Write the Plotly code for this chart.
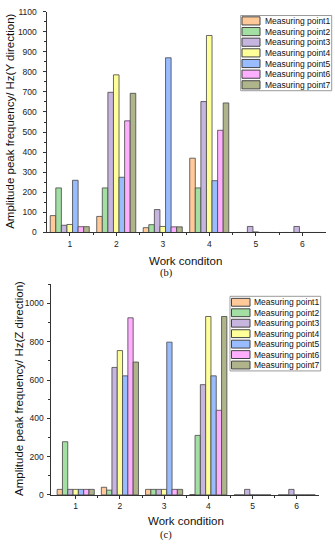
import plotly.graph_objects as go

W, H = 335, 550

conditions = [1, 2, 3, 4, 5, 6]
series_names = ["Measuring point1", "Measuring point2", "Measuring point3",
                "Measuring point4", "Measuring point5", "Measuring point6",
                "Measuring point7"]
series_colors = ["#FFC999", "#A3DFA3", "#C6B5DF", "#FFFF99", "#99BCFF", "#FFAFFF", "#AFB48A"]

# (b) Y direction
y_p1 = [84, 80, 24, 370, 0, 0]
y_p2 = [222, 222, 39, 222, 0, 0]
y_p3 = [36, 698, 114, 652, 30, 30]
y_p4 = [40, 785, 30, 981, 3, 0]
y_p5 = [260, 275, 870, 258, 0, 0]
y_p6 = [29, 556, 28, 509, 0, 0]
y_p7 = [29, 693, 28, 645, 0, 0]

# (c) Z direction
z_p1 = [29, 40, 29, 2, 0, 0]
z_p2 = [278, 25, 29, 311, 0, 0]
z_p3 = [29, 666, 29, 576, 29, 29]
z_p4 = [29, 754, 29, 932, 0, 0]
z_p5 = [29, 622, 798, 622, 0, 0]
z_p6 = [29, 925, 29, 442, 0, 0]
z_p7 = [29, 694, 29, 932, 0, 0]

y_series = [y_p1, y_p2, y_p3, y_p4, y_p5, y_p6, y_p7]
z_series = [z_p1, z_p2, z_p3, z_p4, z_p5, z_p6, z_p7]

tick_labels = ["1", "2", "3", "4", "5", "6"]

fig = go.Figure()
for name, col, yv, zv in zip(series_names, series_colors, y_series, z_series):
    fig.add_trace(go.Bar(x=conditions, y=yv, name=name, marker=dict(color=col, line=dict(color="#454545", width=0.8)),
                         xaxis="x", yaxis="y", showlegend=False))
    fig.add_trace(go.Bar(x=conditions, y=zv, name=name, marker=dict(color=col, line=dict(color="#454545", width=0.8)),
                         xaxis="x2", yaxis="y2", showlegend=False))

def px_x(p):
    return p / W

def px_y(p):
    return 1 - p / H

SANS = "Liberation Sans"
axis_font = dict(family=SANS, size=8.5, color="#222")
common_x = dict(tickmode="array", tickvals=conditions, ticktext=tick_labels, ticks="outside", ticklen=3,
                tickcolor="#333", showline=True, linecolor="#333", linewidth=1, showgrid=False,
                zeroline=False, tickfont=axis_font,
                minor=dict(tickvals=[1.5, 2.5, 3.5, 4.5, 5.5], ticks="outside", ticklen=2, tickcolor="#333"))

fig.update_layout(
    width=W, height=H, margin=dict(l=0, r=0, t=0, b=0),
    paper_bgcolor="white", plot_bgcolor="white",
    barmode="group", bargap=0.16, bargroupgap=0,
    xaxis=dict(domain=[px_x(46.5), px_x(325.5)], range=[0.5, 6.5], anchor="y", **common_x),
    yaxis=dict(domain=[px_y(231.7), px_y(6.7)], range=[0, 1100], anchor="x", tickmode="linear", tick0=0, dtick=100,
               ticks="outside", ticklen=3, tickcolor="#333", showline=True, linecolor="#333", linewidth=1,
               showgrid=False, zeroline=False, tickfont=axis_font, ticklabelstandoff=4,
               minor=dict(dtick=50, ticks="outside", ticklen=2, tickcolor="#333")),
    xaxis2=dict(domain=[px_x(51.4), px_x(318.8)], range=[0.45, 6.5], anchor="y2", **common_x),
    yaxis2=dict(domain=[px_y(499), px_y(284.5)], range=[0, 1100], anchor="x2", tickmode="array",
                tickvals=[0, 200, 400, 600, 800, 1000], ticks="outside", ticklen=3, tickcolor="#333",
                showline=True, linecolor="#333", linewidth=1, showgrid=False, zeroline=False,
                tickfont=axis_font, ticklabelstandoff=2,
                minor=dict(tickvals=[100, 300, 500, 700, 900, 1100], ticks="outside", ticklen=2, tickcolor="#333")),
)

title_font = dict(family=SANS, size=11.5, color="#111")
serif_font = dict(family="Liberation Serif", size=10.5, color="#111")
annos = [
    dict(text="Amplitude peak frequency/ Hz(Y direction)", x=px_x(10), y=px_y(119), textangle=-90, font=title_font),
    dict(text="Work conditon", x=px_x(185), y=px_y(261), font=title_font),
    dict(text="(b)", x=px_x(166), y=px_y(273), font=serif_font),
    dict(text="Amplitude peak frequency/ Hz(Z direction)", x=px_x(19), y=px_y(391), textangle=-90, font=title_font),
    dict(text="Work condition", x=px_x(186), y=px_y(526), font=title_font),
    dict(text="(c)", x=px_x(166), y=px_y(540), font=serif_font),
]

shapes = []
leg_font = dict(family=SANS, size=8.5, color="#111")

def add_legend(box, sw_x0, sw_x1, txt_x, row0, step, sw_h):
    shapes.append(dict(type="rect", xref="paper", yref="paper", x0=px_x(box[0]), x1=px_x(box[1]),
                       y0=px_y(box[3]), y1=px_y(box[2]), line=dict(color="#9a9a9a", width=1), fillcolor="white",
                       layer="above"))
    for i, (name, col) in enumerate(zip(series_names, series_colors)):
        cy = row0 + step * i
        shapes.append(dict(type="rect", xref="paper", yref="paper", x0=px_x(sw_x0), x1=px_x(sw_x1),
                           y0=px_y(cy + sw_h / 2), y1=px_y(cy - sw_h / 2), fillcolor=col,
                           line=dict(color="#454545", width=1), layer="above"))
        annos.append(dict(text=name, x=px_x(txt_x), y=px_y(cy), xanchor="left", font=leg_font))

add_legend((240.7, 331.7, 10.7, 87.3), 242, 260, 262.5, 16.2, 10.85, 8.3)
add_legend((230, 320.7, 296.7, 372.7), 231.5, 250, 252, 302.8, 10.65, 8.0)

for a in annos:
    a.setdefault("xref", "paper")
    a.setdefault("yref", "paper")
    a.setdefault("showarrow", False)
    a.setdefault("xanchor", "center")
    a.setdefault("yanchor", "middle")

fig.update_layout(annotations=annos, shapes=shapes)
fig.write_html("out.html", config={"displayModeBar": False},
               post_script="document.body.style.margin='0';document.body.style.padding='0';"
                           "document.body.style.overflow='hidden';")
